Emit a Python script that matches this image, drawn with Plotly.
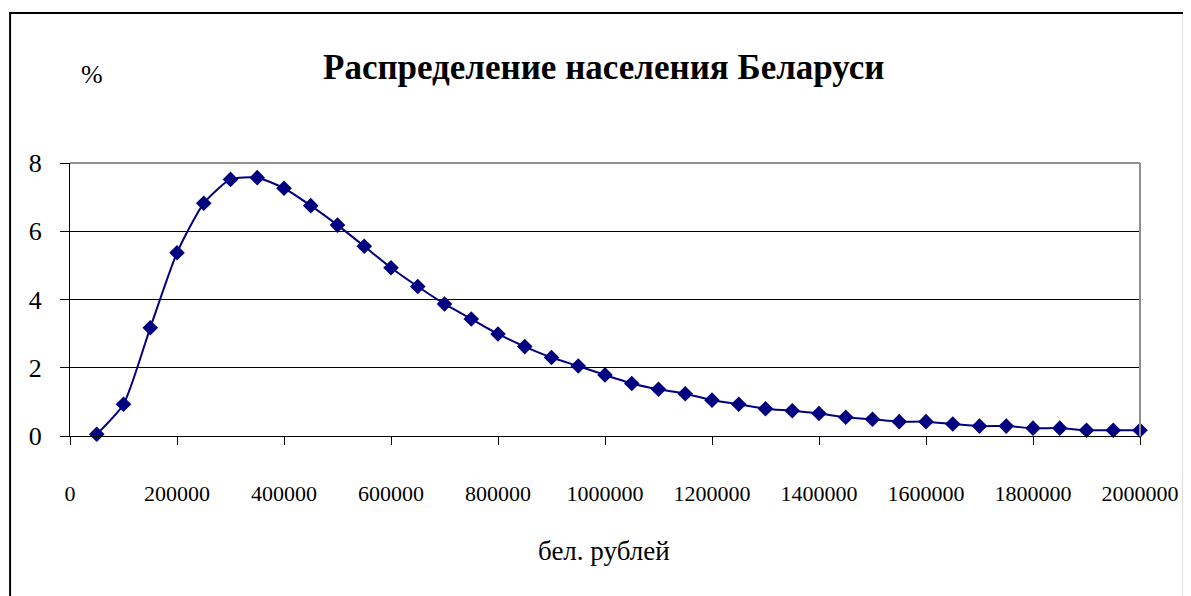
import plotly.graph_objects as go

# income (bel. rubles) and share of population (%)
income = [50000 * i for i in range(1, 41)]
share = [
    0.05, 0.93, 3.17, 5.37, 6.82, 7.52, 7.57, 7.26, 6.75, 6.18,
    5.56, 4.93, 4.38, 3.87, 3.43, 2.99, 2.62, 2.30, 2.05, 1.79,
    1.54, 1.37, 1.24, 1.05, 0.93, 0.80, 0.74, 0.66, 0.55, 0.49,
    0.42, 0.42, 0.35, 0.29, 0.29, 0.23, 0.23, 0.17, 0.17, 0.17,
]
x_ticks = list(range(0, 2000001, 200000))
y_ticks = [0, 2, 4, 6, 8]

FONT = "Liberation Serif"
NAVY = "#000080"

fig = go.Figure()
fig.add_scatter(
    x=income, y=share,
    mode="lines+markers",
    line=dict(color=NAVY, width=2, shape="spline", smoothing=0.6),
    marker=dict(symbol="diamond", size=12, color=NAVY),
    cliponaxis=False,
    showlegend=False,
)

fig.update_layout(
    width=1183, height=588,
    margin=dict(l=62, r=51, t=155, b=160),
    paper_bgcolor="white",
    plot_bgcolor="white",
    font=dict(family=FONT, color="black"),
    xaxis=dict(
        range=[0, 2000000], tickvals=x_ticks, ticktext=[str(v) for v in x_ticks],
        showgrid=False, zeroline=False,
        showline=True, linecolor="black", linewidth=1,
        ticks="outside", ticklen=8, tickcolor="black",
        tickfont=dict(size=22, family=FONT), ticklabelstandoff=30,
    ),
    yaxis=dict(
        range=[0, 8], tickvals=y_ticks,
        showgrid=True, gridcolor="black", gridwidth=1, zeroline=False,
        showline=True, linecolor="black", linewidth=1,
        ticks="outside", ticklen=9, tickcolor="black",
        tickfont=dict(size=26, family=FONT), ticklabelstandoff=13,
    ),
    shapes=[
        # gray plot-area frame (top and right)
        dict(type="line", xref="paper", yref="paper", x0=0, x1=1, y0=1, y1=1,
             line=dict(color="#909090", width=2)),
        dict(type="line", xref="paper", yref="paper", x0=1, x1=1, y0=0, y1=1,
             line=dict(color="#909090", width=2)),
        # outer chart border
        dict(type="rect", xref="paper", yref="paper",
             x0=-0.056, x1=1.041, y0=-0.7, y1=1.549,
             line=dict(color="black", width=2), layer="below"),
    ],
    annotations=[
        dict(text="<b>Распределение населения Беларуси</b>", xref="paper", yref="paper",
             x=0.499, y=1.349, xanchor="center", yanchor="middle", showarrow=False,
             font=dict(size=35, family=FONT)),
        dict(text="%", xref="paper", yref="paper",
             x=0.021, y=1.325, xanchor="center", yanchor="middle", showarrow=False,
             font=dict(size=26, family=FONT)),
        dict(text="бел. рублей", xref="paper", yref="paper",
             x=0.499, y=-0.42, xanchor="center", yanchor="middle", showarrow=False,
             font=dict(size=27, family=FONT)),
    ],
)

fig.write_html("out.html")
